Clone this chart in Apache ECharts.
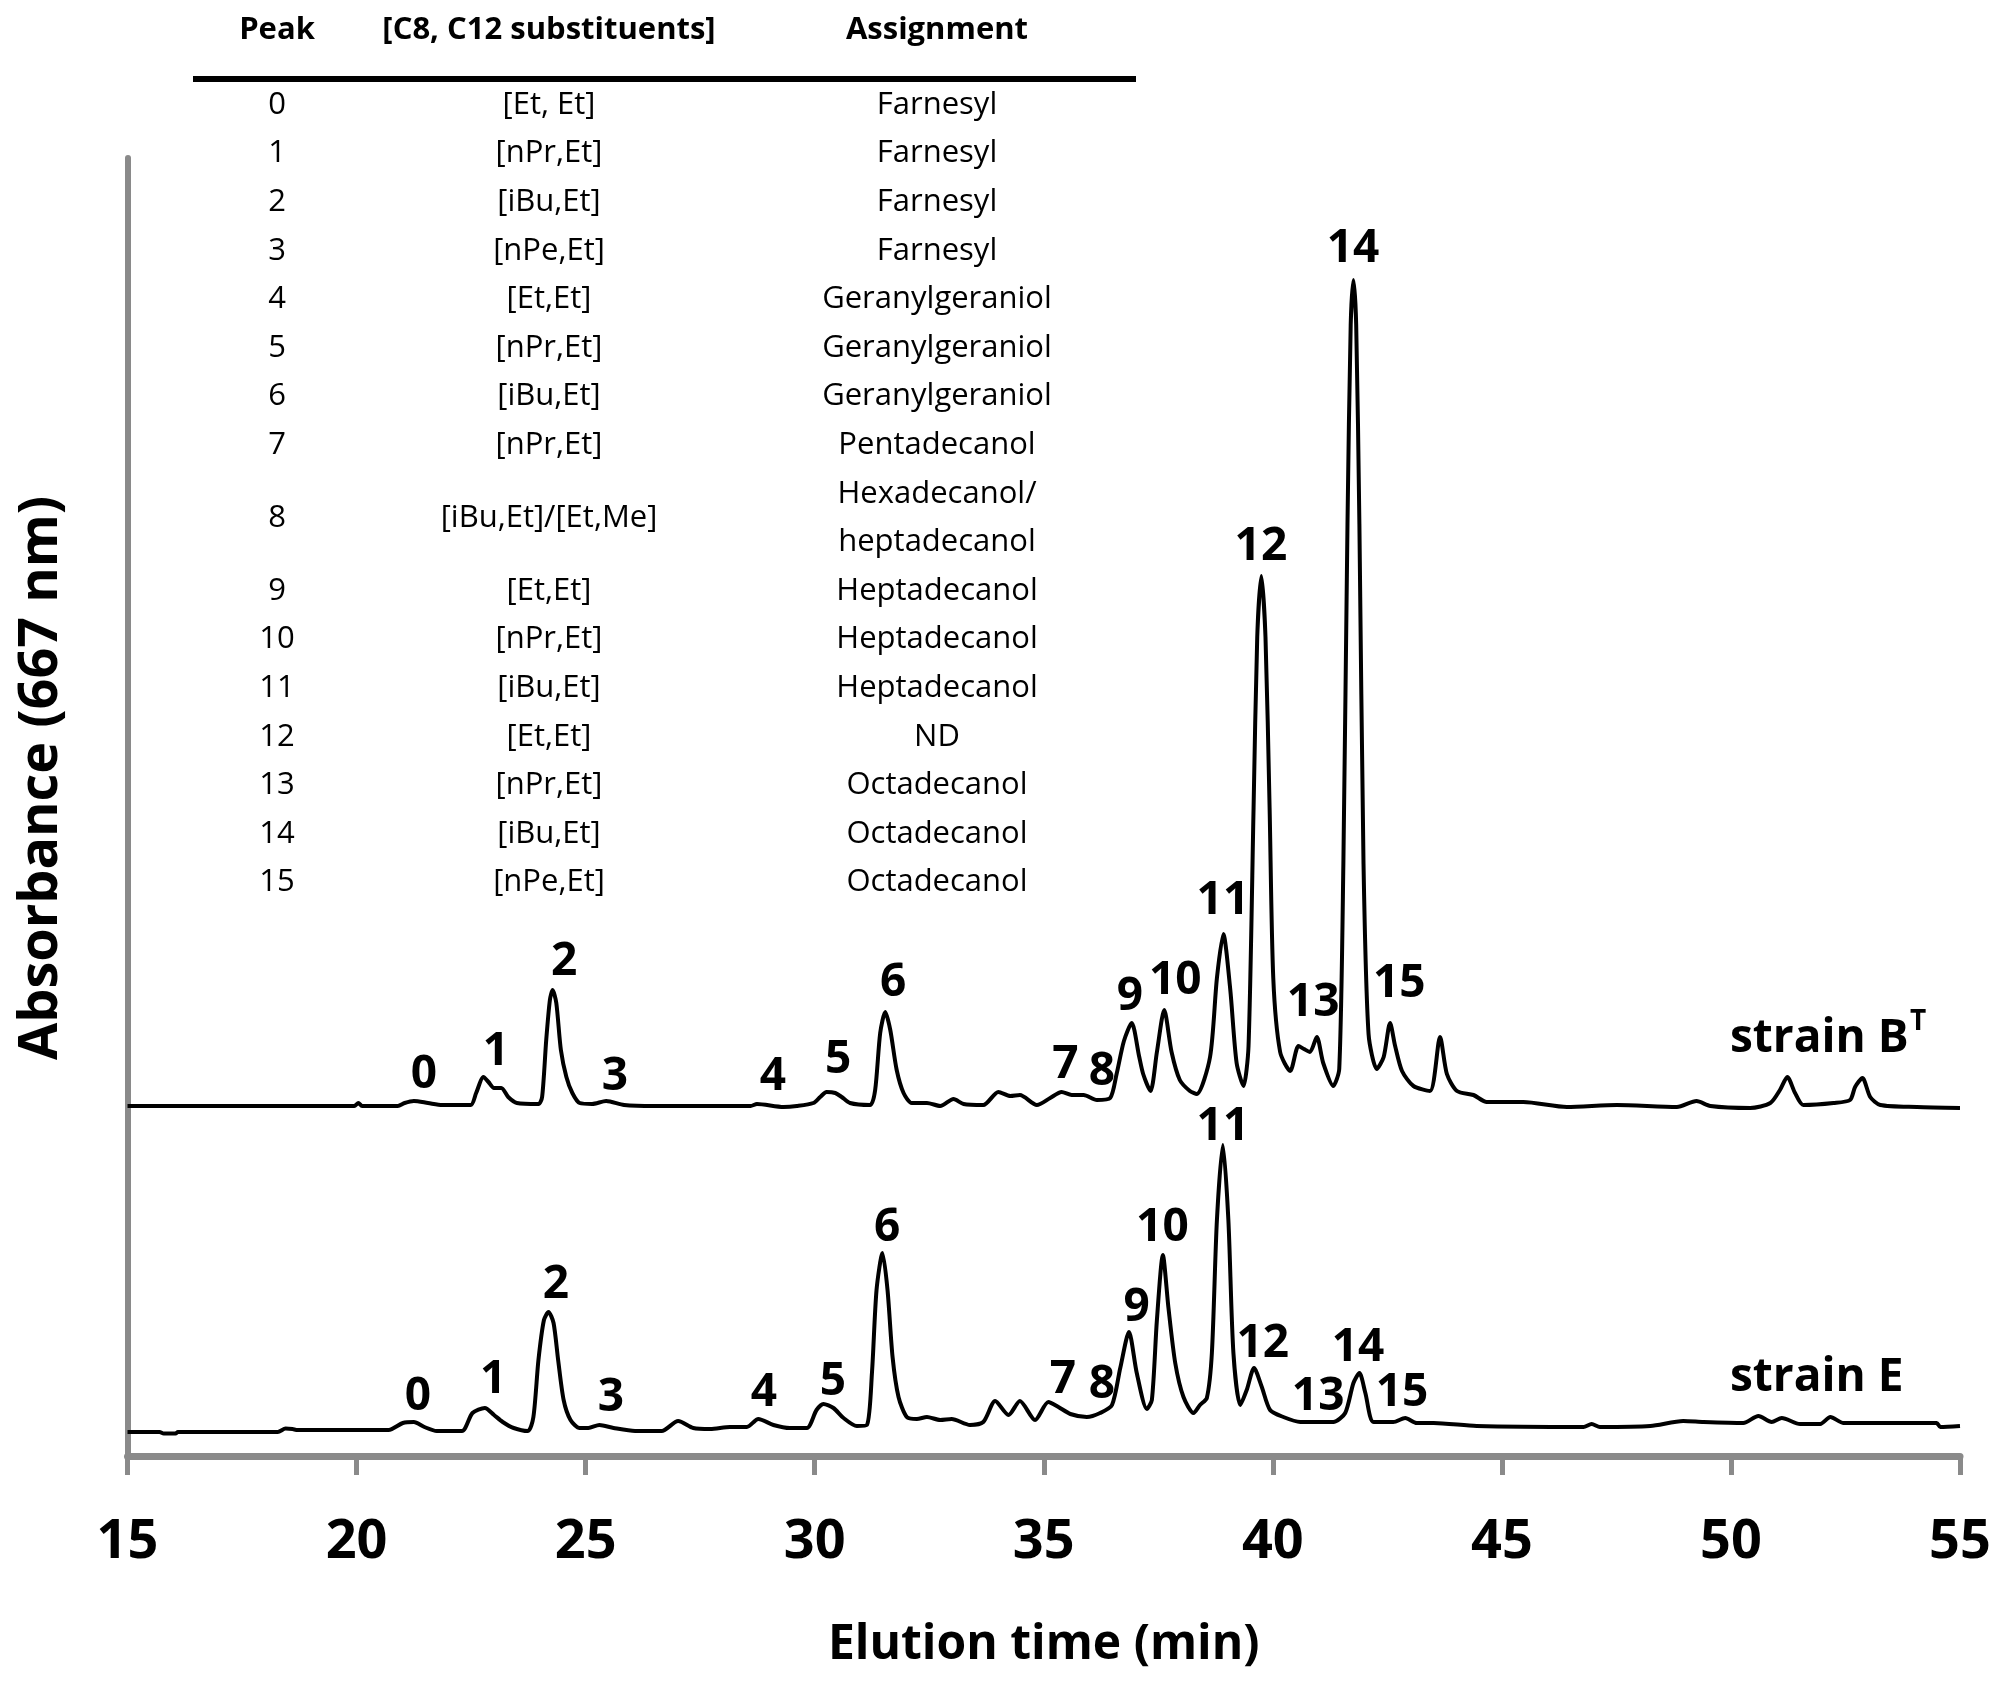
<!DOCTYPE html>
<html>
<head>
<meta charset="utf-8">
<script src="https://cdn.jsdelivr.net/npm/echarts@6/dist/echarts.min.js"></script>
<style>
  html, body { margin: 0; padding: 0; background: #fff; }
  #main { width: 2000px; height: 1685px; }
</style>
</head>
<body>
<div id="main"></div>
<script>
// elution time (min) and absorbance traces
var strainB = [
  [15.0, 350], [16.0, 350], [17.0, 350], [18.0, 350], [19.0, 350], [19.95, 350], [20.04, 353], [20.12, 350],
  [20.9, 350], [21.05, 353], [21.25, 355], [21.56, 353], [21.87, 351], [22.49, 351], [22.61, 363], [22.77, 379],
  [22.88, 374], [23.0, 368], [23.16, 368], [23.31, 359], [23.5, 353], [23.97, 352], [24.05, 359], [24.14, 416],
  [24.22, 456], [24.28, 466], [24.36, 453], [24.46, 406], [24.58, 379], [24.71, 363], [24.87, 353], [25.14, 352],
  [25.45, 355], [25.84, 351], [26.5, 350], [27.5, 350], [28.6, 350], [28.74, 352], [29.32, 349], [29.61, 350],
  [29.97, 353], [30.12, 359], [30.26, 364], [30.45, 363], [30.59, 359], [30.77, 353], [31.21, 351], [31.32, 366],
  [31.43, 423], [31.54, 444], [31.65, 426], [31.79, 386], [31.94, 363], [32.12, 353], [32.45, 353], [32.74, 350],
  [33.03, 357], [33.25, 352], [33.68, 351], [34.01, 364], [34.27, 360], [34.48, 361], [34.85, 351], [35.14, 358],
  [35.39, 364], [35.61, 361], [35.87, 361], [36.16, 356], [36.45, 358], [36.59, 382], [36.75, 415], [36.92, 433],
  [37.08, 400], [37.17, 382], [37.33, 365], [37.47, 404], [37.63, 446], [37.79, 404], [37.97, 376], [38.19, 365],
  [38.34, 362], [38.63, 399], [38.78, 478], [38.92, 522], [39.07, 467], [39.21, 393], [39.36, 370], [39.47, 410],
  [39.58, 648], [39.66, 819], [39.75, 880], [39.84, 819], [39.93, 648], [40.01, 478], [40.16, 404], [40.38, 385],
  [40.56, 410], [40.68, 407], [40.81, 404], [40.96, 419], [41.1, 393], [41.32, 370], [41.45, 387], [41.54, 592],
  [41.63, 932], [41.7, 1131], [41.76, 1176], [41.82, 1131], [41.89, 932], [41.98, 592], [42.09, 422], [42.27, 387],
  [42.42, 399], [42.56, 433], [42.67, 410], [42.82, 385], [43.07, 370], [43.43, 365], [43.65, 419], [43.8, 382],
  [44.02, 365], [44.38, 361], [44.67, 354], [45.47, 354], [46.42, 349], [47.51, 351], [48.82, 349], [49.25, 355],
  [49.55, 350], [50.42, 348], [50.86, 353], [51.07, 366], [51.23, 379], [51.4, 363], [51.58, 351], [52.24, 353],
  [52.6, 356], [52.71, 369], [52.87, 378], [53.04, 359], [53.26, 351], [54.06, 349], [55.0, 348]
];

var strainE = [
  [15.0, 24], [15.7, 24], [15.79, 22.5], [16.05, 22.5], [16.1, 24], [18.28, 24], [18.45, 27.5], [18.6, 27],
  [18.71, 26], [20.7, 26], [21.01, 33], [21.25, 34], [21.48, 29], [21.75, 25], [22.3, 25], [22.53, 43],
  [22.8, 48], [23.0, 41], [23.19, 34], [23.43, 28], [23.74, 25], [23.86, 39], [23.97, 96], [24.09, 136],
  [24.19, 144], [24.3, 133], [24.4, 96], [24.52, 56], [24.67, 36], [24.87, 28], [25.06, 28], [25.3, 31],
  [25.61, 28], [26.08, 25], [26.66, 25], [27.02, 35], [27.35, 28], [27.72, 27], [28.15, 29], [28.52, 29],
  [28.77, 37], [29.1, 31], [29.46, 28], [29.83, 28], [30.04, 46], [30.19, 52], [30.41, 48], [30.63, 38],
  [30.92, 30], [31.14, 31], [31.25, 83], [31.35, 166], [31.48, 203], [31.59, 166], [31.7, 99], [31.83, 59],
  [32.01, 39], [32.23, 37], [32.45, 39], [32.74, 36], [32.99, 37], [33.39, 31], [33.68, 34], [33.94, 55],
  [34.23, 41], [34.48, 55], [34.81, 36], [35.1, 54], [35.32, 49], [35.58, 42], [35.94, 39], [36.23, 43],
  [36.49, 51], [36.67, 88], [36.86, 124], [37.03, 83], [37.25, 47], [37.36, 56], [37.47, 136], [37.6, 201],
  [37.72, 149], [37.87, 93], [38.05, 59], [38.27, 43], [38.41, 51], [38.56, 58], [38.67, 103], [38.78, 236],
  [38.91, 311], [39.03, 236], [39.14, 103], [39.29, 51], [39.43, 66], [39.59, 88], [39.76, 69], [39.94, 46],
  [40.23, 39], [40.6, 34], [40.96, 34], [41.32, 34], [41.58, 43], [41.76, 73], [41.89, 83], [42.02, 63],
  [42.2, 34], [42.63, 34], [42.89, 38], [43.14, 33], [43.51, 33], [44.45, 30], [46.78, 29], [46.96, 32],
  [47.14, 29], [48.24, 30], [48.96, 35], [49.4, 34], [50.27, 33], [50.6, 40], [50.89, 34], [51.11, 38],
  [51.51, 32], [51.95, 32], [52.17, 39], [52.46, 33], [54.49, 33], [54.57, 29], [55.0, 30]
];

// peak number labels: [time, absorbance, peak]
var labelsB = [
  [21.47, 381, '0'], [23.04, 404, '1'], [24.53, 494, '2'], [25.64, 379, '3'], [29.09, 379, '4'],
  [30.51, 396, '5'], [31.71, 473, '6'], [35.47, 391, '7'], [36.27, 384, '8'], [36.88, 459, '9'],
  [37.87, 475, '10'], [38.91, 555, '11'], [39.74, 909, '12'], [40.88, 453, '13'], [41.75, 1207, '14'],
  [42.76, 472, '15']
];
var labelsE = [
  [21.34, 59, '0'], [22.98, 76, '1'], [24.35, 171, '2'], [25.55, 58, '3'], [28.89, 63, '4'],
  [30.4, 74, '5'], [31.58, 228, '6'], [35.42, 76, '7'], [36.27, 71, '8'], [37.03, 148, '9'],
  [37.59, 228, '10'], [38.91, 329, '11'], [39.78, 112, '12'], [40.99, 59, '13'], [41.86, 108, '14'],
  [42.82, 63, '15']
];

var xTicks = [15, 20, 25, 30, 35, 40, 45, 50, 55];

// peak table
var tableHeader = ['Peak', '[C8, C12 substituents]', 'Assignment'];
var tablePeaks = ['0', '1', '2', '3', '4', '5', '6', '7', '8', '9', '10', '11', '12', '13', '14', '15'];
var tableSubst = ['[Et, Et]', '[nPr,Et]', '[iBu,Et]', '[nPe,Et]', '[Et,Et]', '[nPr,Et]', '[iBu,Et]', '[nPr,Et]',
  '[iBu,Et]/[Et,Me]', '[Et,Et]', '[nPr,Et]', '[iBu,Et]', '[Et,Et]', '[nPr,Et]', '[iBu,Et]', '[nPe,Et]'];
var tableAssign = ['Farnesyl', 'Farnesyl', 'Farnesyl', 'Farnesyl', 'Geranylgeraniol', 'Geranylgeraniol',
  'Geranylgeraniol', 'Pentadecanol', 'Hexadecanol/\nheptadecanol', 'Heptadecanol', 'Heptadecanol',
  'Heptadecanol', 'ND', 'Octadecanol', 'Octadecanol', 'Octadecanol'];

var FONT = '"Open Sans", "DejaVu Sans", sans-serif';
var myChart = echarts.init(document.getElementById('main'), null, { renderer: 'canvas' });

// table graphic
var colX = [277, 549, 937];
var graphics = [];
for (var c = 0; c < 3; c++) {
  graphics.push({
    type: 'text', x: colX[c], y: 30,
    style: { text: tableHeader[c], font: 'bold 31px ' + FONT, fill: '#000', textAlign: 'center', textVerticalAlign: 'middle' }
  });
}
graphics.push({
  type: 'rect', shape: { x: 193, y: 76, width: 943, height: 6 }, style: { fill: '#000' }
});
var rowStep = 48.6;
var slot = 0;
for (var i = 0; i < tablePeaks.length; i++) {
  var two = tableAssign[i].indexOf('\n') >= 0;
  var cy = 105 + rowStep * (two ? slot + 0.5 : slot);
  var cells = [tablePeaks[i], tableSubst[i], tableAssign[i]];
  for (var c = 0; c < 3; c++) {
    graphics.push({
      type: 'text', x: colX[c], y: cy,
      style: { text: cells[c], font: '31px ' + FONT, fill: '#000', textAlign: 'center', textVerticalAlign: 'middle', lineHeight: rowStep }
    });
  }
  slot += two ? 2 : 1;
}

// y axis title and strain names
graphics.push({
  type: 'text', x: 42, y: 778, rotation: Math.PI / 2,
  style: { text: 'Absorbance (667 nm)', font: 'bold 54px ' + FONT, fill: '#000', textAlign: 'center', textVerticalAlign: 'middle' }
});
graphics.push({
  type: 'text', x: 1730, y: 1039,
  style: { text: 'strain B', font: 'bold 46px ' + FONT, fill: '#000', textAlign: 'left', textVerticalAlign: 'middle' }
});
graphics.push({
  type: 'text', x: 1910, y: 1022,
  style: { text: 'T', font: 'bold 28px ' + FONT, fill: '#000', textAlign: 'left', textVerticalAlign: 'middle' }
});
graphics.push({
  type: 'text', x: 1730, y: 1378,
  style: { text: 'strain E', font: 'bold 46px ' + FONT, fill: '#000', textAlign: 'left', textVerticalAlign: 'middle' }
});

function labelSeries(list) {
  return {
    type: 'scatter',
    symbolSize: 1,
    itemStyle: { color: 'rgba(0,0,0,0)', opacity: 1 },
    silent: true,
    z: 5,
    data: list.map(function (d) { return { value: [d[0], d[1]], name: d[2] }; }),
    label: {
      show: true, position: 'inside', formatter: '{b}',
      color: '#000', fontFamily: FONT, fontWeight: 'bold', fontSize: 46
    }
  };
}

function traceSeries(name, data) {
  return {
    name: name,
    type: 'line',
    data: data,
    showSymbol: false,
    smooth: 0.25,
    silent: true,
    lineStyle: { color: '#000', width: 4 },
    z: 3
  };
}

var option = {
  backgroundColor: '#fff',
  animation: false,
  grid: { left: 127.5, right: 40, top: 158, bottom: 229, containLabel: false },
  xAxis: {
    type: 'value', min: 15, max: 55, interval: 5,
    name: 'Elution time (min)', nameLocation: 'middle', nameGap: 165,
    nameTextStyle: { color: '#000', fontFamily: FONT, fontWeight: 'bold', fontSize: 48 },
    axisLine: { show: true, onZero: false, lineStyle: { color: '#8a8a8a', width: 7 } },
    axisTick: { show: true, inside: false, length: 19, lineStyle: { color: '#8a8a8a', width: 5 } },
    axisLabel: {
      margin: 60, color: '#000', fontFamily: FONT, fontWeight: 'bold', fontSize: 54,
      formatter: function (v) { return xTicks.indexOf(v) >= 0 ? String(v) : ''; }
    },
    splitLine: { show: false }
  },
  yAxis: {
    type: 'value', min: 0, max: 1298,
    axisLine: { show: true, lineStyle: { color: '#8a8a8a', width: 6 } },
    axisTick: { show: false },
    axisLabel: { show: false },
    splitLine: { show: false }
  },
  graphic: graphics,
  series: [
    traceSeries('strain BT', strainB),
    traceSeries('strain E', strainE),
    labelSeries(labelsB),
    labelSeries(labelsE)
  ]
};

myChart.setOption(option);
</script>
</body>
</html>
